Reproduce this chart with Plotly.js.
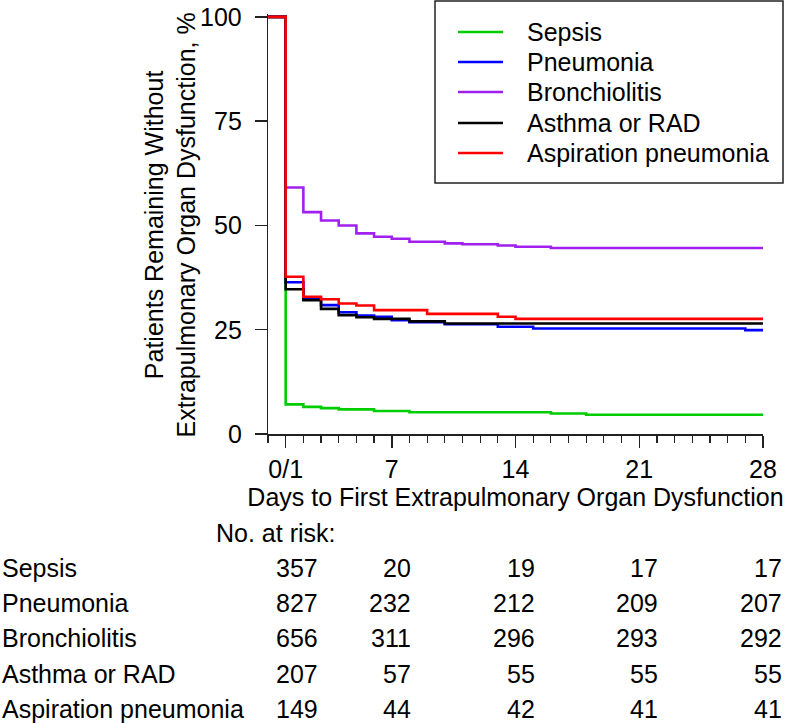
<!DOCTYPE html>
<html>
<head>
<meta charset="utf-8">
<script src="https://cdn.plot.ly/plotly-3.0.1.min.js"></script>
<style>
    html, body { margin: 0; padding: 0; background: #fff; }
    #chart { width: 800px; height: 723px; }
</style>
</head>
<body>
<div id="chart"></div>
<script>
// --- data ---
const seriesNames = ['Sepsis', 'Pneumonia', 'Bronchiolitis', 'Asthma or RAD', 'Aspiration pneumonia'];
const seriesColors = ['#00cd00', '#0000ff', '#a020f0', '#000000', '#ff0000'];

const sepsisDays = [0, 1, 2, 3, 4, 6, 8, 16, 18, 28];
const sepsisPct = [100, 7.1, 6.5, 6.2, 5.9, 5.5, 5.2, 4.9, 4.6, 4.6];

const pneumoniaDays = [0, 1, 2, 3, 4, 5, 6, 7, 8, 10, 13, 15, 27, 28];
const pneumoniaPct = [100, 36.4, 32.4, 30.9, 29.2, 28.4, 28.1, 27.3, 26.8, 26.3, 25.7, 25.3, 24.9, 24.9];

const bronchDays = [0, 1, 2, 3, 4, 5, 6, 7, 8, 10, 11, 13, 14, 16, 28];
const bronchPct = [100, 59.1, 53.2, 51.2, 50.0, 48.1, 47.3, 46.8, 46.1, 45.7, 45.5, 45.2, 44.9, 44.6, 44.6];

const asthmaDays = [0, 1, 2, 3, 4, 5, 6, 8, 10, 28];
const asthmaPct = [100, 34.7, 32.1, 30.0, 28.5, 28.0, 27.6, 27.0, 26.5, 26.4];

const aspirationDays = [0, 1, 2, 3, 4, 5, 6, 9, 13, 14, 28];
const aspirationPct = [100, 37.7, 32.9, 32.3, 31.3, 30.8, 29.7, 28.8, 28.1, 27.6, 27.6];

const xTickVals = [1, 7, 14, 21, 28];
const xTickText = ['0/1', '7', '14', '21', '28'];
const yTickVals = [0, 25, 50, 75, 100];
const yTickText = ['0', '25', '50', '75', '100'];

const atRiskDays = [1, 7, 14, 21, 28];
const atRiskSepsis = [357, 20, 19, 17, 17];
const atRiskPneumonia = [827, 232, 212, 209, 207];
const atRiskBronch = [656, 311, 296, 293, 292];
const atRiskAsthma = [207, 57, 55, 55, 55];
const atRiskAspiration = [149, 44, 42, 41, 41];

// --- layout helpers ---
const W = 800, H = 723;
const M = { l: 268, r: 37, t: 14, b: 289 };
const plotW = W - M.l - M.r;
const plotH = H - M.t - M.b;
const px = (x) => (x - M.l) / plotW;          // pixel -> paper x
const py = (y) => (H - M.b - y) / plotH;      // pixel -> paper y
const FONT = 'Liberation Sans, Arial, sans-serif';
const AXIS = '#222222';
const FS = 25;

const curves = [
    [sepsisDays, sepsisPct],
    [pneumoniaDays, pneumoniaPct],
    [bronchDays, bronchPct],
    [asthmaDays, asthmaPct],
    [aspirationDays, aspirationPct],
];
const atRisk = [atRiskSepsis, atRiskPneumonia, atRiskBronch, atRiskAsthma, atRiskAspiration];

const data = curves.map(([days, pct], i) => ({
    x: days, y: pct,
    type: 'scatter', mode: 'lines',
    line: { color: seriesColors[i], width: 2.6, shape: 'hv' },
    name: seriesNames[i],
    showlegend: false,
}));

// legend drawn as a box with sample lines
const shapes = [{
    type: 'rect', xref: 'paper', yref: 'paper',
    x0: px(435), x1: px(783), y0: py(183), y1: py(1),
    line: { color: AXIS, width: 1.5 }, fillcolor: 'rgba(255,255,255,0)',
}];
const annotations = [];
const legendRows = [32, 62, 92, 123, 153];
seriesNames.forEach((name, i) => {
    shapes.push({
        type: 'line', xref: 'paper', yref: 'paper',
        x0: px(458), x1: px(503), y0: py(legendRows[i]), y1: py(legendRows[i]),
        line: { color: seriesColors[i], width: 2.6 },
    });
    annotations.push({
        xref: 'paper', yref: 'paper', x: px(525), y: py(legendRows[i]),
        xanchor: 'left', yanchor: 'middle', showarrow: false,
        text: name, font: { size: FS, color: '#000' },
    });
});

// y tick labels, set a little further from the ticks than plotly's default
yTickVals.forEach((v, i) => {
    annotations.push({
        xref: 'paper', yref: 'y', x: px(244), y: v,
        xanchor: 'right', yanchor: 'middle', showarrow: false,
        text: yTickText[i], font: { size: FS, color: '#000' },
    });
});

// y-axis title, two lines, rotated
annotations.push({
    xref: 'paper', yref: 'paper', x: px(170), y: 0.5 * (py(17) + py(434)),
    xanchor: 'center', yanchor: 'middle', showarrow: false, textangle: -90,
    text: 'Patients Remaining Without<br>Extrapulmonary Organ Dysfunction, %',
    font: { size: FS, color: '#000' },
});

// number-at-risk table
annotations.push({
    xref: 'paper', yref: 'paper', x: px(214), y: py(533),
    xanchor: 'left', yanchor: 'middle', showarrow: false,
    text: 'No. at risk:', font: { size: FS, color: '#000' },
});
const tableRows = [568, 603, 638, 674, 709];
seriesNames.forEach((name, i) => {
    annotations.push({
        xref: 'paper', yref: 'paper', x: px(0), y: py(tableRows[i]),
        xanchor: 'left', yanchor: 'middle', showarrow: false,
        text: name, font: { size: FS, color: '#000' },
    });
    atRisk[i].forEach((n, j) => {
        annotations.push({
            xref: 'x', yref: 'paper', x: atRiskDays[j], y: py(tableRows[i]),
            xanchor: 'right', yanchor: 'middle', showarrow: false,
            xshift: j === 0 ? 34 : 21,
            text: String(n), font: { size: FS, color: '#000' },
        });
    });
});

const layout = {
    width: W, height: H,
    margin: M,
    paper_bgcolor: '#ffffff', plot_bgcolor: '#ffffff',
    font: { family: FONT, size: FS, color: '#000' },
    showlegend: false,
    xaxis: {
        range: [0, 28], fixedrange: true,
        showline: true, linecolor: AXIS, linewidth: 1.5,
        showgrid: false, zeroline: false,
        tickmode: 'array', tickvals: xTickVals, ticktext: xTickText,
        ticks: 'outside', ticklen: 12, tickwidth: 1.5, tickcolor: AXIS,
        tickfont: { size: FS, color: '#000' },
        minor: { tickmode: 'linear', tick0: 0, dtick: 1, ticks: 'outside', ticklen: 7, tickwidth: 1.2, tickcolor: AXIS, showgrid: false },
        title: { text: 'Days to First Extrapulmonary Organ Dysfunction', font: { size: FS, color: '#000' }, standoff: 7 },
    },
    yaxis: {
        range: [0, 100.7], fixedrange: true,
        showline: true, linecolor: AXIS, linewidth: 1.5,
        showgrid: false, zeroline: false,
        tickmode: 'array', tickvals: yTickVals, showticklabels: false,
        ticks: 'outside', ticklen: 12, tickwidth: 1.5, tickcolor: AXIS,
    },
    shapes,
    annotations,
};

Plotly.newPlot('chart', data, layout, { staticPlot: true, displayModeBar: false });
</script>
</body>
</html>
